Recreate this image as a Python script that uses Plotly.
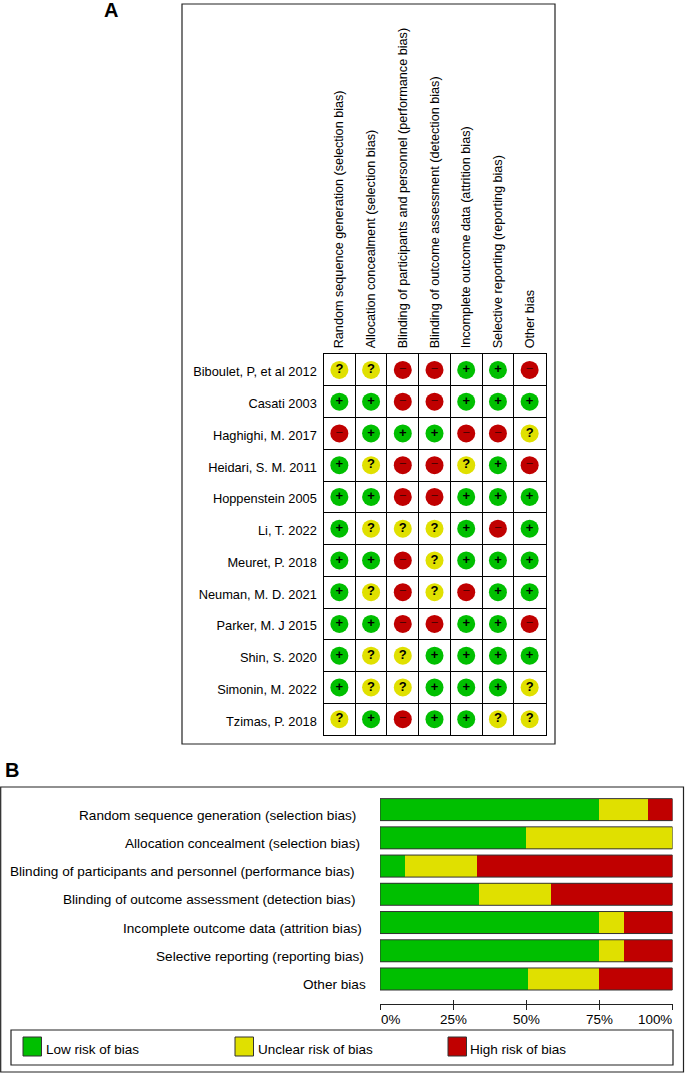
import plotly.graph_objects as go

W, H = 685, 1076

domains = [
    "Random sequence generation (selection bias)",
    "Allocation concealment (selection bias)",
    "Blinding of participants and personnel (performance bias)",
    "Blinding of outcome assessment (detection bias)",
    "Incomplete outcome data (attrition bias)",
    "Selective reporting (reporting bias)",
    "Other bias",
]
studies = [
    "Biboulet, P, et al 2012", "Casati 2003", "Haghighi, M. 2017",
    "Heidari, S. M. 2011", "Hoppenstein 2005", "Li, T. 2022",
    "Meuret, P. 2018", "Neuman, M. D. 2021", "Parker, M. J 2015",
    "Shin, S. 2020", "Simonin, M. 2022", "Tzimas, P. 2018",
]
judgements = [
    "??--++-",
    "++--+++",
    "-+++--?",
    "+?--?+-",
    "++--+++",
    "+???+-+",
    "++-?+++",
    "+?-?-++",
    "++--++-",
    "+??++++",
    "+??+++?",
    "?+-++??",
]
low_pct = [75, 50, 8.7, 33.8, 75, 75, 50.5]
unclear_pct = [16.7, 50, 24.6, 24.8, 8.3, 8.3, 24.5]
high_pct = [8.3, 0, 66.7, 41.4, 16.7, 16.7, 25]
pct_ticks = [0, 25, 50, 75, 100]
pct_labels = ["0%", "25%", "50%", "75%", "100%"]
legend_labels = ["Low risk of bias", "Unclear risk of bias", "High risk of bias"]

GREEN, YELLOW, RED = "#00bf00", "#e0e000", "#c00000"
EDGE = "#333333"
FONT = "Liberation Sans, Arial, sans-serif"


def px(x):
    return x / W


def py(y):
    return 1 - y / H


fig = go.Figure()

# Panel A: traffic-light grid
styles = {
    "+": ("Low", GREEN, "<b>+</b>", "#000000"),
    "?": ("Unclear", YELLOW, "<b>?</b>", "#000000"),
    "-": ("High", RED, "\u2212", "#500000"),
}
for key, (name, color, glyph, glyph_color) in styles.items():
    xs, ys = [], []
    for r, row in enumerate(judgements):
        for c, val in enumerate(row):
            if val == key:
                xs.append(c)
                ys.append(r)
    fig.add_trace(go.Scatter(
        x=xs, y=ys, mode="markers+text", name=name, xaxis="x", yaxis="y",
        marker=dict(size=18, color=color, line=dict(width=0)),
        text=[glyph] * len(xs), textposition="middle center",
        textfont=dict(family=FONT, size=13, color=glyph_color),
        showlegend=False, hoverinfo="skip",
    ))

# Panel B: stacked bars
for name, vals, color in [("Low risk of bias", low_pct, GREEN),
                          ("Unclear risk of bias", unclear_pct, YELLOW),
                          ("High risk of bias", high_pct, RED)]:
    fig.add_trace(go.Bar(
        x=vals, y=list(range(len(domains))), orientation="h", name=name,
        marker=dict(color=color, line=dict(width=0)), width=0.78,
        xaxis="x2", yaxis="y2", showlegend=False, hoverinfo="skip",
    ))
# second axis only carries the upward half of the ticks
fig.add_trace(go.Scatter(x=[0, 100], y=[0, 0], mode="markers", marker=dict(opacity=0),
                         xaxis="x3", yaxis="y2", showlegend=False, hoverinfo="skip"))

shapes = []
BOX = dict(type="rect", xref="paper", yref="paper", fillcolor="rgba(0,0,0,0)")
for x0, y0, x1, y1 in [(182, 4, 555, 744), (0.7, 787, 683.5, 1072), (11, 1030, 673, 1065)]:
    shapes.append(dict(BOX, x0=px(x0), x1=px(x1), y0=py(y0), y1=py(y1),
                       line=dict(color="#222222", width=1.2)))
for i in range(len(domains)):
    shapes.append(dict(type="rect", xref="x2", yref="y2", x0=0, x1=100, y0=i - 0.39, y1=i + 0.39,
                       line=dict(color=EDGE, width=1), fillcolor="rgba(0,0,0,0)"))

annotations = []
for label, x, y in [("A", 110.5, -2), ("B", 12, 758)]:
    annotations.append(dict(text=f"<b>{label}</b>", xref="paper", yref="paper", x=px(x), y=py(y),
                            showarrow=False, xanchor="center", yanchor="top", borderpad=0,
                            font=dict(family=FONT, size=20, color="#000000")))
right_ends = [358, 362, 357, 357, 364, 365.5, 368]
for i, label in enumerate(domains):
    annotations.append(dict(text=label, xref="paper", yref="y2", x=px(right_ends[i]), y=i, yshift=-5.5,
                            showarrow=False, xanchor="right", yanchor="middle",
                            font=dict(family=FONT, size=13.6, color="#000000")))
for label, color, sx, tx in zip(legend_labels, [GREEN, YELLOW, RED], [23, 235, 448], [43.5, 256, 468]):
    shapes.append(dict(BOX, x0=px(sx), x1=px(sx + 18.5), y0=py(1037), y1=py(1056), fillcolor=color,
                       line=dict(color=EDGE, width=1)))
    annotations.append(dict(text=label, xref="paper", yref="paper", x=px(tx), y=py(1049),
                            showarrow=False, xanchor="left", yanchor="middle",
                            font=dict(family=FONT, size=13.5, color="#000000")))
for value, label, anchor, nudge in zip(pct_ticks, pct_labels, ["left", "center", "center", "center", "right"],
                                       [-1.5, 0, 0, 0, 1.5]):
    annotations.append(dict(text=label, xref="x2", yref="paper", x=value, xshift=nudge, y=py(1019.5),
                            showarrow=False, xanchor=anchor, yanchor="middle",
                            font=dict(family=FONT, size=13.4, color="#000000")))

n_c, n_r = len(domains), len(studies)
grid = dict(showgrid=True, gridcolor="#000000", gridwidth=1.3)
fig.update_layout(
    template="none",
    width=W, height=H, margin=dict(l=0, r=0, t=0, b=0, pad=0, autoexpand=False),
    paper_bgcolor="white", plot_bgcolor="white",
    font=dict(family=FONT, size=12, color="#000000"),
    barmode="stack", shapes=shapes, annotations=annotations,
    xaxis=dict(domain=[px(323.5), px(545.5)], range=[-0.5, n_c - 0.5], side="top", anchor="y",
               tickmode="array", tickvals=list(range(n_c)), ticktext=domains, tickangle=-90,
               showgrid=False, zeroline=False, ticklabelstandoff=2, ticks="", automargin=False,
               tickfont=dict(family=FONT, size=12.65),
               minor=dict(tickmode="array", tickvals=[i - 0.5 for i in range(n_c + 1)], ticks="", **grid),
               mirror=True, showline=True, linecolor="#000000", linewidth=1.3, fixedrange=True),
    yaxis=dict(domain=[py(735), py(354)], range=[n_r - 0.5, -0.5], anchor="x",
               tickmode="array", tickvals=list(range(n_r)), ticktext=studies,
               showgrid=False, zeroline=False, ticklabelstandoff=3, ticklabelshift=-2, ticks="", automargin=False,
               tickfont=dict(family=FONT, size=12.8),
               minor=dict(tickmode="array", tickvals=[i - 0.5 for i in range(n_r + 1)], ticks="", **grid),
               mirror=True, showline=True, linecolor="#000000", linewidth=1.3, fixedrange=True),
    xaxis2=dict(domain=[px(380), px(672.5)], range=[0, 100], anchor="y2", side="bottom",
                tickmode="array", tickvals=pct_ticks, showticklabels=False, automargin=False,
                ticks="outside", ticklen=5, tickwidth=1, tickcolor="#222222",
                showline=True, linecolor="#222222", linewidth=1, showgrid=False, zeroline=False,
                fixedrange=True),
    xaxis3=dict(domain=[px(380), px(672.5)], range=[0, 100], anchor="y2", overlaying="x2", side="bottom",
                tickmode="array", tickvals=pct_ticks, showticklabels=False, automargin=False,
                ticks="inside", ticklen=4, tickwidth=1, tickcolor="#222222",
                showgrid=False, zeroline=False, fixedrange=True),
    yaxis2=dict(domain=[py(1004), py(795.5)], range=[6.886, -0.5], anchor="x2", automargin=False,
                showticklabels=False, ticks="", showgrid=False, zeroline=False, showline=False, fixedrange=True),
)
fig.write_html("out.html", config=dict(displayModeBar=False),
               post_script="document.body.style.margin='0';document.documentElement.style.overflow='hidden';")
